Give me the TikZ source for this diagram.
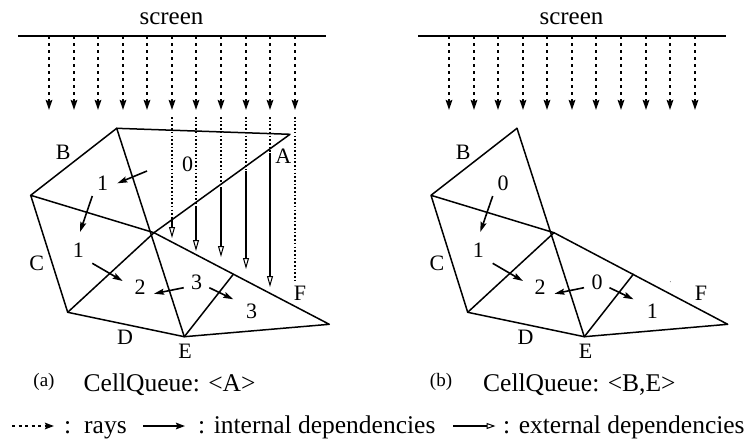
\documentclass[tikz,border=0pt]{standalone}
\usepackage{fontspec}
\setmainfont{Liberation Serif}
\usetikzlibrary{arrows.meta}
\tikzset{
  edgeline/.style={line width=1.5pt,black,line cap=round,line join=round},
  rayline/.style={line width=2pt,dash pattern=on 3.4pt off 3.6pt,-{Stealth[length=10pt,width=6.5pt,inset=1.5pt]}},
  dotline/.style={line width=1.6pt,dash pattern=on 1.6pt off 2.1pt},
  depline/.style={line width=1.6pt,-{Stealth[length=10pt,width=6pt,inset=1.5pt]}},
  extline/.style={line width=2pt,-{Triangle[open,fill=white,length=11pt,width=6pt,line width=1pt]}},
  lab/.style={inner sep=0pt,font=\fontsize{22}{24}\selectfont},
  titletext/.style={inner sep=0pt,anchor=base,font=\fontsize{25}{28}\selectfont},
  captext/.style={inner sep=0pt,anchor=base west,font=\fontsize{25.5}{28}\selectfont},
  smalltext/.style={inner sep=0pt,font=\fontsize{19}{22}\selectfont},
}
\begin{document}
\begin{tikzpicture}[x=1pt,y=-1pt]
\useasboundingbox (0,0) rectangle (749,439);
% ---------- left panel ----------
\node[titletext] (scrA) at (171.5,24) {screen};
\coordinate (la) at (18,36); \coordinate (lb) at (326,36);
\draw[line width=1.5pt] (la) -- (lb);
\foreach \i/\x in {1/49,2/74,3/98,4/123,5/147,6/172,7/196,8/221,9/246,10/270,11/295}{
  \coordinate (ra\i) at (\x,36); \coordinate (rb\i) at (\x,110);
  \draw[rayline] (ra\i) -- (rb\i);
}
\foreach \i/\x/\ya/\yc in {6/172/217/238,7/196/207/251,8/221/189/257,9/246/171/269,10/270/153/287}{
  \coordinate (da\i) at (\x,117); \coordinate (db\i) at (\x,\ya); \coordinate (dc\i) at (\x,\yc);
  \draw[dotline] (da\i) -- (db\i);
  \draw[extline] (db\i) -- (dc\i);
}
\coordinate (da11) at (295,117); \coordinate (db11) at (295,280);
\draw[dotline] (da11) -- (db11);
\coordinate (T) at (116.7,128.3); \coordinate (A) at (290,134.3);
\coordinate (L) at (30.7,195.3); \coordinate (M) at (154,232.7);
\coordinate (P) at (67.7,312.3); \coordinate (E) at (184.3,336.7);
\coordinate (F) at (329.3,324.3); \coordinate (Q) at (233.3,274.3);
\draw[edgeline] (T) -- (A) -- (M);
\draw[edgeline] (T) -- (L) -- (P) -- (E) -- (F) -- (M) -- (L);
\draw[edgeline] (T) -- (E);
\draw[edgeline] (M) -- (P);
\draw[edgeline] (E) -- (Q);
\foreach \n/\xa/\ya/\xb/\yb in {1/147/171/117.3/183.3,2/92.3/196/80/232,3/92.3/263.3/122.7/281,4/183.7/287.7/154/293.7,5/209.3/287.7/233.3/299.3}{
  \coordinate (ga\n) at (\xa,\ya); \coordinate (gb\n) at (\xb,\yb);
  \draw[depline] (ga\n) -- (gb\n);
}
\node[lab] (lB) at (63.3,152.7) {B};
\node[lab] (lA) at (283.3,156.7) {A};
\node[lab] (n0) at (187.7,164.3) {0};
\node[lab] (n1) at (102.7,183.3) {1};
\node[lab] (n2) at (78.3,250.7) {1};
\node[lab] (lC) at (36.7,263.3) {C};
\node[lab] (n3) at (140,287.7) {2};
\node[lab] (n4) at (196.7,282.7) {3};
\node[lab] (n5) at (251.7,311.7) {3};
\node[lab] (lF) at (300,293.3) {F};
\node[lab] (lD) at (125,337.3) {D};
\node[lab] (lE) at (185,351.7) {E};
% ---------- right panel ----------
\node[titletext] (scrB) at (571.5,24) {screen};
\coordinate (lc) at (418,36); \coordinate (ld) at (726,36);
\draw[line width=1.5pt] (lc) -- (ld);
\foreach \i/\x in {1/449,2/474,3/498,4/523,5/547,6/572,7/596,8/621,9/646,10/670,11/695}{
  \coordinate (sa\i) at (\x,36); \coordinate (sb\i) at (\x,110);
  \draw[rayline] (sa\i) -- (sb\i);
}
\coordinate (T2) at (517,128.3); \coordinate (L2) at (431,195.3);
\coordinate (M2) at (554,232.7); \coordinate (P2) at (467.7,312.3);
\coordinate (E2) at (584.3,336.7); \coordinate (F2) at (727.7,324.3);
\coordinate (Q2) at (633.3,274.3);
\draw[edgeline] (T2) -- (L2) -- (P2) -- (E2) -- (F2) -- (M2) -- (L2);
\draw[edgeline] (T2) -- (E2);
\draw[edgeline] (M2) -- (P2);
\draw[edgeline] (E2) -- (Q2);
\foreach \n/\xa/\ya/\xb/\yb in {2/492.7/196/480.3/232,3/492.7/263.3/523/281,4/584/287.7/554.5/293.7,5/609.5/287.7/633.5/299.3}{
  \coordinate (ha\n) at (\xa,\ya); \coordinate (hb\n) at (\xb,\yb);
  \draw[depline] (ha\n) -- (hb\n);
}
\fill[black!60] (670.3,281.7) circle (0.5pt);
\node[lab] (mB) at (463.3,152.7) {B};
\node[lab] (m1) at (503,183.3) {0};
\node[lab] (m2) at (478.3,250.7) {1};
\node[lab] (mC) at (437,263.3) {C};
\node[lab] (m3) at (540,287.7) {2};
\node[lab] (m4) at (597,282.7) {0};
\node[lab] (m5) at (652.3,311.7) {1};
\node[lab] (mF) at (701,293.3) {F};
\node[lab] (mD) at (525.5,337.3) {D};
\node[lab] (mE) at (585.5,351.7) {E};
% ---------- captions ----------
\node[smalltext] (capa) at (44,381.7) {(a)};
\node[captext] (qa) at (83.5,391.7) {CellQueue: <A>};
\node[smalltext] (capb) at (441,381.7) {(b)};
\node[captext] (qb) at (483,391.7) {CellQueue: <B,E>};
% ---------- legend ----------
\coordinate (k1) at (12,426); \coordinate (k2) at (54,426);
\draw[line width=2pt,dash pattern=on 3pt off 3.5pt,-{Stealth[length=9pt,width=6.5pt,inset=1.5pt]}] (k1) -- (k2);
\node[captext] (t1) at (64,433) {:};
\node[captext] (t2) at (84,433) {rays};
\coordinate (k3) at (143,426); \coordinate (k4) at (185,426);
\draw[line width=2pt,-{Stealth[length=9pt,width=6.5pt,inset=1.5pt]}] (k3) -- (k4);
\node[captext] (t3) at (198,433) {: internal dependencies};
\coordinate (k5) at (453,426); \coordinate (k6) at (495.5,426);
\draw[line width=2pt,-{Triangle[open,fill=white,length=9pt,width=6pt,line width=1pt]}] (k5) -- (k6);
\node[captext] (t4) at (503,433) {: external dependencies};
\end{tikzpicture}
\end{document}
